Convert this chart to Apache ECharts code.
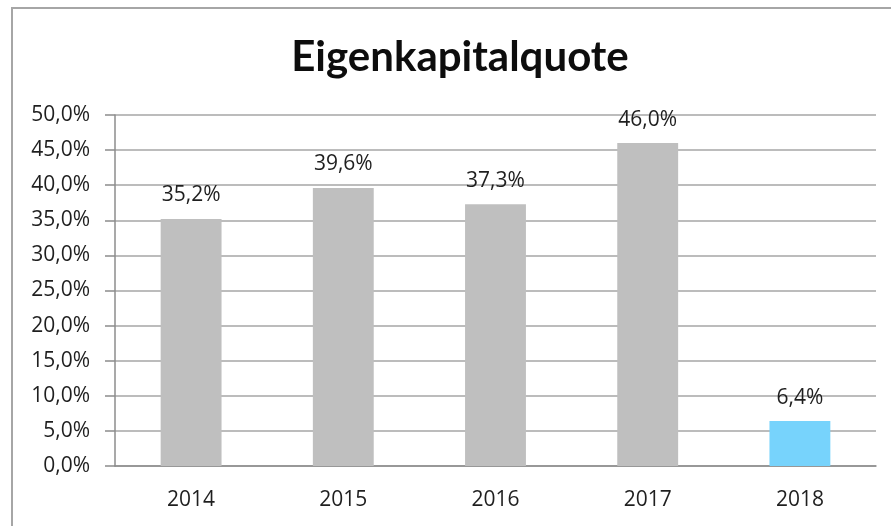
<!DOCTYPE html>
<html>
<head>
<meta charset="utf-8">
<script src="https://cdn.jsdelivr.net/npm/echarts@6/dist/echarts.min.js"></script>
<style>
  html, body { margin: 0; padding: 0; background: #fff; }
  #chart { width: 891px; height: 526px; }
</style>
</head>
<body>
<div id="chart"></div>
<script>
// Daten
const years = ['2014', '2015', '2016', '2017', '2018'];
const quote = [35.2, 39.6, 37.3, 46.0, 6.4];
const barColors = ['#bfbfbf', '#bfbfbf', '#bfbfbf', '#bfbfbf', '#77d3fc'];

function pct(v) {
  return v.toFixed(1).replace('.', ',') + '%';
}

const labelFont = 'Open Sans';
const labelColor = '#1f1f1f';

const chart = echarts.init(document.getElementById('chart'));
chart.setOption({
  animation: false,
  graphic: [{
    type: 'rect',
    shape: { x: 12, y: 8, width: 900, height: 600 },
    style: { fill: 'none', stroke: '#a6a6a6', lineWidth: 2 },
    silent: true
  }],
  title: {
    text: 'Eigenkapitalquote',
    left: 455,
    textAlign: 'center',
    top: 31,
    textStyle: { fontFamily: 'Lato', fontWeight: 'bold', fontSize: 42, color: '#0d0d0d' }
  },
  grid: { left: 115, right: 15, top: 115, bottom: 60 },
  xAxis: {
    type: 'category',
    data: years,
    axisLine: { lineStyle: { color: '#8c8c8c', width: 1.5 } },
    axisTick: { length: 7, lineStyle: { color: '#8c8c8c', width: 1.5 } },
    axisLabel: { margin: 24, fontSize: 21, fontFamily: labelFont, color: labelColor }
  },
  yAxis: {
    type: 'value',
    min: 0,
    max: 50,
    interval: 5,
    axisLine: { show: true, lineStyle: { color: '#8c8c8c', width: 1.5 } },
    axisTick: { show: true, length: 10, lineStyle: { color: '#8c8c8c', width: 1.5 } },
    axisLabel: { margin: 25, fontSize: 21, fontFamily: labelFont, color: labelColor, formatter: pct },
    splitLine: { lineStyle: { color: '#a6a6a6', width: 1.5 } }
  },
  series: [{
    type: 'bar',
    barWidth: '40%',
    data: quote.map((v, i) => ({ value: v, itemStyle: { color: barColors[i] } })),
    label: {
      show: true,
      position: 'top',
      distance: 13,
      fontSize: 21,
      fontFamily: labelFont,
      color: labelColor,
      formatter: p => pct(p.value)
    }
  }]
});
</script>
</body>
</html>
